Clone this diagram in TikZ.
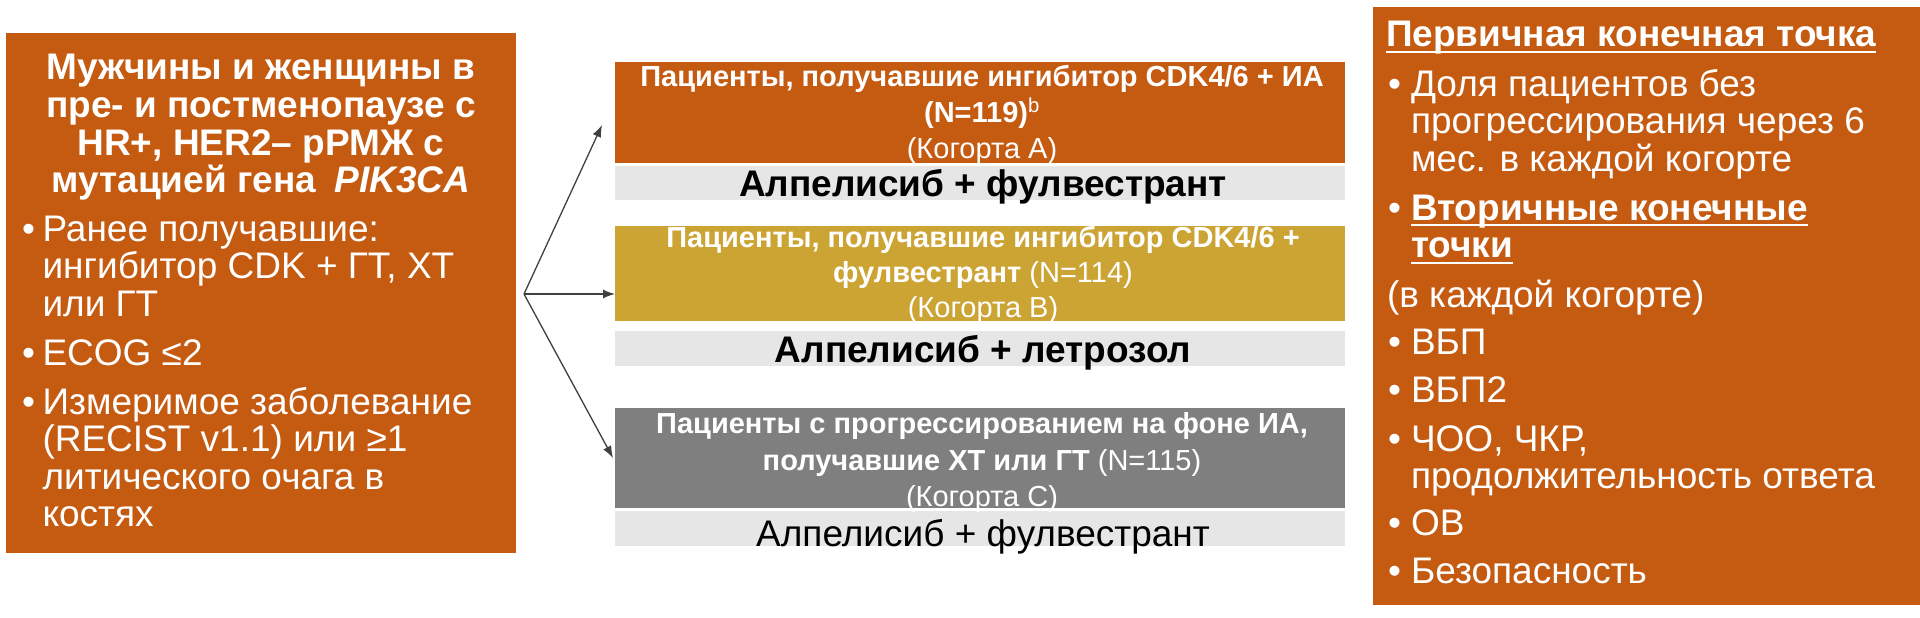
\documentclass[tikz,border=0pt]{standalone}
\usepackage{fontspec}
\setmainfont{Liberation Sans}
\usetikzlibrary{arrows.meta}
\definecolor{ora}{HTML}{C55A11}
\definecolor{gld}{HTML}{CCA434}
\definecolor{dgr}{HTML}{7F7F7F}
\definecolor{lgr}{HTML}{E6E6E6}
\definecolor{arr}{HTML}{404040}
\newcommand\fsBig{\fontsize{37}{38}\selectfont}
\newcommand\fsMid{\fontsize{29}{35}\selectfont}
\begin{document}
\begin{tikzpicture}[x=1pt,y=-1pt,
  panel/.style={inner sep=0,outer sep=0,anchor=north west,draw=none},
  tw/.style={inner sep=0,outer sep=0,text=white},
  tk/.style={inner sep=0,outer sep=0,text=black},
  big/.style={font=\fsBig},
  bigb/.style={font=\fsBig\bfseries},
  mid/.style={font=\fsMid},
  midb/.style={font=\fsMid\bfseries},
  conn/.style={draw=arr,line width=1.3pt,-{Latex[length=12pt,width=9pt]}},
  ul/.style={draw=white,line width=2pt}]
\useasboundingbox (0,0) rectangle (1920,618);
\fill[white] (0,0) rectangle (1920,618);
% panels
\node[panel,fill=ora,minimum width=510pt,minimum height=520pt] (lbox) at (6,33) {};
\node[panel,fill=ora,minimum width=547pt,minimum height=598pt] (rbox) at (1373,7) {};
\node[panel,fill=ora,minimum width=730pt,minimum height=101pt] (boxA) at (615,62) {};
\node[panel,fill=lgr,minimum width=730pt,minimum height=34pt] (bandA) at (615,166) {};
\node[panel,fill=gld,minimum width=730pt,minimum height=95pt] (boxB) at (615,226) {};
\node[panel,fill=lgr,minimum width=730pt,minimum height=35pt] (bandB) at (615,331) {};
\node[panel,fill=dgr,minimum width=730pt,minimum height=100pt] (boxC) at (615,408) {};
\node[panel,fill=lgr,minimum width=730pt,minimum height=35pt] (bandC) at (615,511) {};
% left box text
\node[tw,bigb,anchor=base] (t1) at (261,80) {Мужчины и женщины в};
\node[tw,bigb,anchor=base] (t2) at (261,117.5) {пре- и постменопаузе с};
\node[tw,bigb,anchor=base] (t3) at (261,155) {HR+, HER2– рРМЖ с};
\node[tw,bigb,anchor=base] (t4) at (261,192.5) {мутацией гена\hspace{0.5em}\textit{PIK3CA}};
\node[tw,big,anchor=base west] (lb1) at (22,241) {•};
\node[tw,big,anchor=base west] (l1) at (42.5,241) {Ранее получавшие:};
\node[tw,big,anchor=base west] (l2) at (42.5,278.5) {ингибитор CDK + ГТ, ХТ};
\node[tw,big,anchor=base west] (l3) at (42.5,316) {или ГТ};
\node[tw,big,anchor=base west] (lb2) at (22,365) {•};
\node[tw,big,anchor=base west] (l4) at (42.5,365) {ECOG ≤2};
\node[tw,big,anchor=base west] (lb3) at (22,414) {•};
\node[tw,big,anchor=base west] (l5) at (42.5,414) {Измеримое заболевание};
\node[tw,big,anchor=base west] (l6) at (42.5,451.5) {(RECIST v1.1) или ≥1};
\node[tw,big,anchor=base west] (l7) at (42.5,489) {литического очага в};
\node[tw,big,anchor=base west] (l8) at (42.5,526.5) {костях};
% middle texts
\node[tw,midb,anchor=base] (a1) at (982,87) {Пациенты, получавшие ингибитор CDK4/6 + ИА};
\node[tw,midb,anchor=base] (a2) at (982,122) {(N=119)\textsuperscript{\mdseries b}};
\node[tw,mid,anchor=base] (a3) at (982,158) {(Когорта А)};
\node[tk,bigb,anchor=base] (ta) at (983,196) {Алпелисиб + фулвестрант};
\node[tw,midb,anchor=base] (b1) at (983,247) {Пациенты, получавшие ингибитор CDK4/6 +};
\node[tw,midb,anchor=base] (b2) at (983,282) {фулвестрант {\mdseries (N=114)}};
\node[tw,mid,anchor=base] (b3) at (983,317) {(Когорта В)};
\node[tk,bigb,anchor=base] (tb) at (983,362.5) {Алпелисиб + летрозол};
\node[tw,midb,anchor=base] (c1) at (982,433) {Пациенты с прогрессированием на фоне ИА,};
\node[tw,midb,anchor=base] (c2) at (982,470) {получавшие ХТ или ГТ {\mdseries (N=115)}};
\node[tw,mid,anchor=base] (c3) at (982,506) {(Когорта С)};
\node[tk,big,anchor=base] (tc) at (983,546) {Алпелисиб + фулвестрант};
% right box text
\node[tw,bigb,anchor=base west] (h1) at (1386,47) {Первичная конечная точка};
\draw[ul] ([yshift=-5pt]h1.base west) -- ([yshift=-5pt]h1.base east);
\node[tw,big,anchor=base west] (rb1) at (1388,96) {•};
\node[tw,big,anchor=base west] (r1) at (1411,96) {Доля пациентов без};
\node[tw,big,anchor=base west] (r2) at (1411,133.5) {прогрессирования через 6};
\node[tw,big,anchor=base west] (r3) at (1411,171) {мес. в каждой когорте};
\node[tw,big,anchor=base west] (rb2) at (1388,220) {•};
\node[tw,bigb,anchor=base west] (h2) at (1411,220) {Вторичные конечные};
\draw[ul] ([yshift=-5pt]h2.base west) -- ([yshift=-5pt]h2.base east);
\node[tw,bigb,anchor=base west] (h3) at (1411,257.5) {точки};
\draw[ul] ([yshift=-5pt]h3.base west) -- ([yshift=-5pt]h3.base east);
\node[tw,big,anchor=base west] (r4) at (1387,307) {(в каждой когорте)};
\node[tw,big,anchor=base west] (rb3) at (1388,354) {•};
\node[tw,big,anchor=base west] (r5) at (1411,354) {ВБП};
\node[tw,big,anchor=base west] (rb4) at (1388,402) {•};
\node[tw,big,anchor=base west] (r6) at (1411,402) {ВБП2};
\node[tw,big,anchor=base west] (rb5) at (1388,451) {•};
\node[tw,big,anchor=base west] (r7) at (1411,451) {ЧОО, ЧКР,};
\node[tw,big,anchor=base west] (r8) at (1411,488.5) {продолжительность ответа};
\node[tw,big,anchor=base west] (rb6) at (1388,535) {•};
\node[tw,big,anchor=base west] (r9) at (1411,535) {ОВ};
\node[tw,big,anchor=base west] (rb7) at (1388,583) {•};
\node[tw,big,anchor=base west] (r10) at (1411,583) {Безопасность};
% connectors
\coordinate (src) at (524,294);
\coordinate (tipA) at (602,125);
\coordinate (tipB) at (boxB.west |- src);
\coordinate (tipC) at (613,458);
\draw[conn] (src) -- (tipA);
\draw[conn] (src) -- (tipB);
\draw[conn] (src) -- (tipC);
\end{tikzpicture}
\end{document}
